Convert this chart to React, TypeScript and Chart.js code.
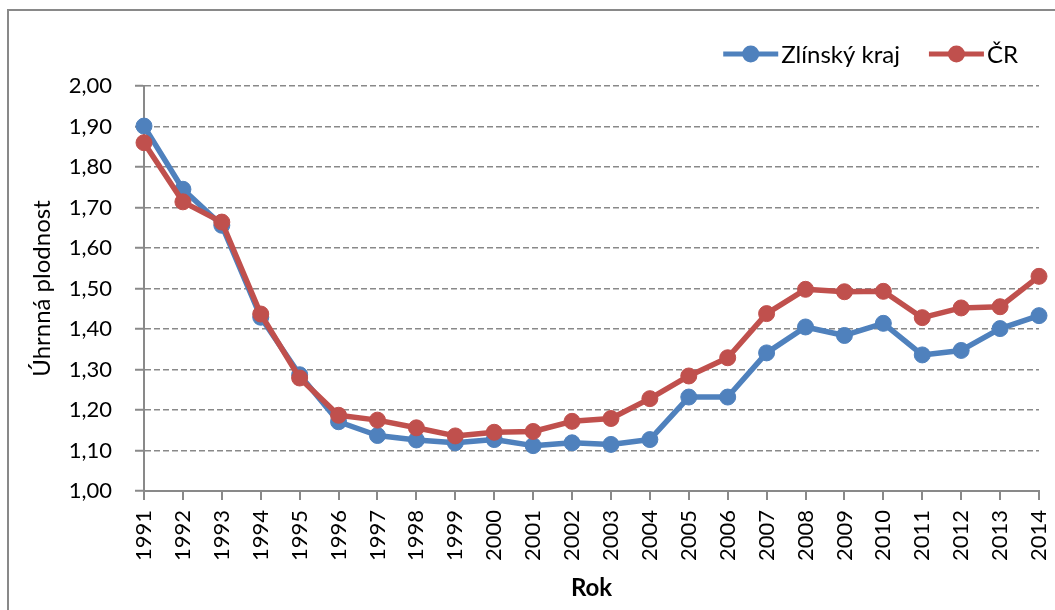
import React, { useEffect, useRef } from 'react';
import { Chart, registerables } from 'chart.js';

Chart.register(...registerables);

const years = ['1991', '1992', '1993', '1994', '1995', '1996', '1997', '1998', '1999', '2000', '2001', '2002', '2003', '2004', '2005', '2006', '2007', '2008', '2009', '2010', '2011', '2012', '2013', '2014'];
const zlinskyKraj = [1.901, 1.745, 1.656, 1.429, 1.287, 1.171, 1.137, 1.126, 1.119, 1.127, 1.112, 1.119, 1.115, 1.127, 1.232, 1.232, 1.341, 1.405, 1.384, 1.414, 1.336, 1.347, 1.401, 1.433];
const ceskaRepublika = [1.860, 1.714, 1.664, 1.437, 1.279, 1.187, 1.175, 1.156, 1.136, 1.145, 1.147, 1.172, 1.179, 1.228, 1.284, 1.329, 1.438, 1.498, 1.492, 1.493, 1.428, 1.452, 1.455, 1.530];
const seriesLabels = ['Zlínský kraj', 'ČR'];
const seriesColors = ['#4f81bd', '#c0504d'];
const yTitle = 'Úhrnná plodnost';
const xTitle = 'Rok';

const FONT = 'Lato, "Liberation Sans", sans-serif';
const AXIS = '#898989';

const lineLegend = {
  id: 'lineLegend',
  afterDraw(chart: any) {
    const { ctx } = chart;
    const datasets = chart.data.datasets;
    ctx.save();
    ctx.font = `24px ${FONT}`;
    const lineLen = 55;
    const gapText = 3;
    const gapItems = 29;
    const widths = datasets.map((d: any) => ctx.measureText(d.label).width);
    const total = widths.reduce((a: number, w: number) => a + lineLen + gapText + w, 0) + gapItems * (datasets.length - 1);
    let x = chart.chartArea.right - 21 - total;
    const y = 54;
    datasets.forEach((d: any, i: number) => {
      ctx.strokeStyle = d.borderColor;
      ctx.lineWidth = 5;
      ctx.lineCap = 'butt';
      ctx.beginPath();
      ctx.moveTo(x, y);
      ctx.lineTo(x + lineLen, y);
      ctx.stroke();
      ctx.fillStyle = d.backgroundColor;
      ctx.beginPath();
      ctx.arc(x + lineLen / 2, y, 8.5, 0, Math.PI * 2);
      ctx.fill();
      ctx.fillStyle = '#000';
      ctx.textAlign = 'left';
      ctx.textBaseline = 'middle';
      ctx.fillText(d.label, x + lineLen + gapText, y + 1);
      x += lineLen + gapText + widths[i] + gapItems;
    });
    ctx.restore();
  },
};

export default function App() {
  const canvasRef = useRef<HTMLCanvasElement | null>(null);

  useEffect(() => {
    if (!canvasRef.current) return;
    const series = [zlinskyKraj, ceskaRepublika];
    const chart = new Chart(canvasRef.current, {
      type: 'line',
      data: {
        labels: years,
        datasets: series.map((values, i) => ({
          label: seriesLabels[i],
          data: values,
          borderColor: seriesColors[i],
          backgroundColor: seriesColors[i],
          pointBackgroundColor: seriesColors[i],
          pointBorderColor: seriesColors[i],
          pointBorderWidth: 1,
          pointRadius: 8,
          borderWidth: 5.5,
          borderJoinStyle: 'round' as const,
          borderCapStyle: 'round' as const,
          tension: 0,
          fill: false,
          order: i === 0 ? 1 : 0,
        })),
      },
      options: {
        animation: false,
        responsive: false,
        maintainAspectRatio: false,
        devicePixelRatio: 1,
        layout: { padding: { left: 0, top: 86, right: 16, bottom: 0 } },
        plugins: {
          legend: { display: false },
          tooltip: { enabled: false },
        },
        scales: {
          x: {
            type: 'category',
            offset: false,
            grid: {
              drawOnChartArea: false,
              drawTicks: true,
              tickLength: 9,
              tickColor: AXIS,
              tickWidth: 2,
              color: AXIS,
              lineWidth: 2,
            },
            border: { display: true, color: AXIS, width: 2 },
            ticks: {
              color: '#000',
              font: { family: FONT, size: 22 },
              maxRotation: 90,
              minRotation: 90,
              autoSkip: false,
              padding: 10,
            },
            title: {
              display: true,
              text: xTitle,
              color: '#000',
              font: { family: FONT, size: 24, weight: 'bold' },
              padding: { top: 0, bottom: 7.6 },
            },
            afterFit(scale: any) {
              scale.height = 119;
              scale.paddingLeft = 0;
              scale.paddingRight = 0;
            },
          },
          y: {
            min: 1,
            max: 2,
            ticks: {
              stepSize: 0.1,
              color: '#000',
              font: { family: FONT, size: 22 },
              padding: 23,
              callback: (v: any) => Number(v).toFixed(2).replace('.', ','),
            },
            grid: {
              drawOnChartArea: true,
              drawTicks: true,
              tickLength: 9,
              color: AXIS,
              lineWidth: 1.5,
              tickColor: AXIS,
              tickWidth: 2,
              tickBorderDash: [],
            },
            border: { display: true, color: AXIS, width: 2, dash: [6, 3] },
            title: {
              display: true,
              text: yTitle,
              color: '#000',
              font: { family: FONT, size: 24 },
              padding: { top: 27.6, bottom: 0 },
            },
            afterFit(scale: any) {
              scale.width = 144;
              scale.paddingTop = 0;
              scale.paddingBottom = 0;
            },
          },
        },
      },
      plugins: [lineLegend],
    });
    return () => chart.destroy();
  }, []);

  return (
    <div style={{ position: 'absolute', left: 0, top: 0, width: 1055, height: 610, overflow: 'hidden', background: '#fff' }}>
      <div
        style={{
          position: 'absolute',
          left: 7,
          top: 9,
          width: 1200,
          height: 800,
          borderLeft: `2px solid ${AXIS}`,
          borderTop: `2px solid ${AXIS}`,
        }}
      />
      <canvas ref={canvasRef} width={1055} height={610} style={{ position: 'absolute', left: 0, top: 0, width: 1055, height: 610 }} />
    </div>
  );
}
